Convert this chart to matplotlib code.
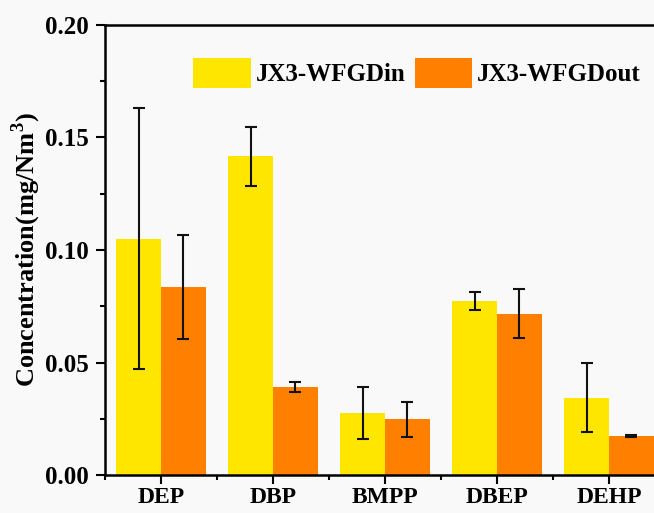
import numpy as np
import matplotlib
matplotlib.use("Agg")
import matplotlib.pyplot as plt
from matplotlib.ticker import MultipleLocator, FormatStrFormatter

plt.rcParams['font.family'] = ['Liberation Serif', 'DejaVu Serif']
plt.rcParams['font.weight'] = 'bold'
plt.rcParams['mathtext.fontset'] = 'custom'
plt.rcParams['mathtext.rm'] = 'Liberation Serif:bold'

categories = ['DEP', 'DBP', 'BMPP', 'DBEP', 'DEHP']
wfgd_in = [0.105, 0.1416, 0.0276, 0.0773, 0.0344]
wfgd_in_err = [0.058, 0.013, 0.0114, 0.004, 0.0152]
wfgd_out = [0.0835, 0.0391, 0.0248, 0.0717, 0.0173]
wfgd_out_err = [0.023, 0.0021, 0.0078, 0.011, 0.0003]

bg = '#f9f9f9'
fig = plt.figure(figsize=(6.54, 5.13), dpi=100, facecolor=bg)
ax = fig.add_axes([105/654, 1-475/513, 560/654, 450/513], facecolor=bg)

x = np.arange(len(categories))
w = 0.4
ekw = dict(ecolor='#111111', elinewidth=1.5, capsize=4, capthick=1.5)
ax.bar(x - w/2, wfgd_in, w, yerr=wfgd_in_err, color='#ffe600', label='JX3-WFGDin', error_kw=ekw)
ax.bar(x + w/2, wfgd_out, w, yerr=wfgd_out_err, color='#ff8000', label='JX3-WFGDout', error_kw=ekw)

ax.set_xlim(-0.5, 4.5)
ax.set_ylim(0, 0.20)
ax.set_xticks(x)
ax.set_xticklabels(categories)
ax.xaxis.set_minor_locator(MultipleLocator(0.5))
ax.yaxis.set_major_locator(MultipleLocator(0.05))
ax.yaxis.set_minor_locator(MultipleLocator(0.025))
ax.yaxis.set_major_formatter(FormatStrFormatter('%.2f'))
ax.tick_params(which='major', direction='out', length=6.5, width=1.5, labelsize=18, pad=5)
ax.tick_params(axis='x', which='major', labelsize=17, pad=2)
ax.tick_params(which='minor', direction='out', length=3.5, width=1.5)
ax.tick_params(axis='x', which='minor', labelbottom=False)
for s in ax.spines.values():
    s.set_linewidth(1.8)

ax.set_ylabel('Concentration(mg/Nm$^3$)', fontsize=19, fontweight='bold')
ax.yaxis.set_label_coords(-0.111, 0.5)

ax.legend(loc='upper left', bbox_to_anchor=(0.14, 0.95), borderaxespad=0, ncol=2,
          frameon=False, fontsize=18, handlelength=2.3, handleheight=1.5,
          columnspacing=0.36, handletextpad=0.2)

fig.savefig('out.png', dpi=100, facecolor=bg)
